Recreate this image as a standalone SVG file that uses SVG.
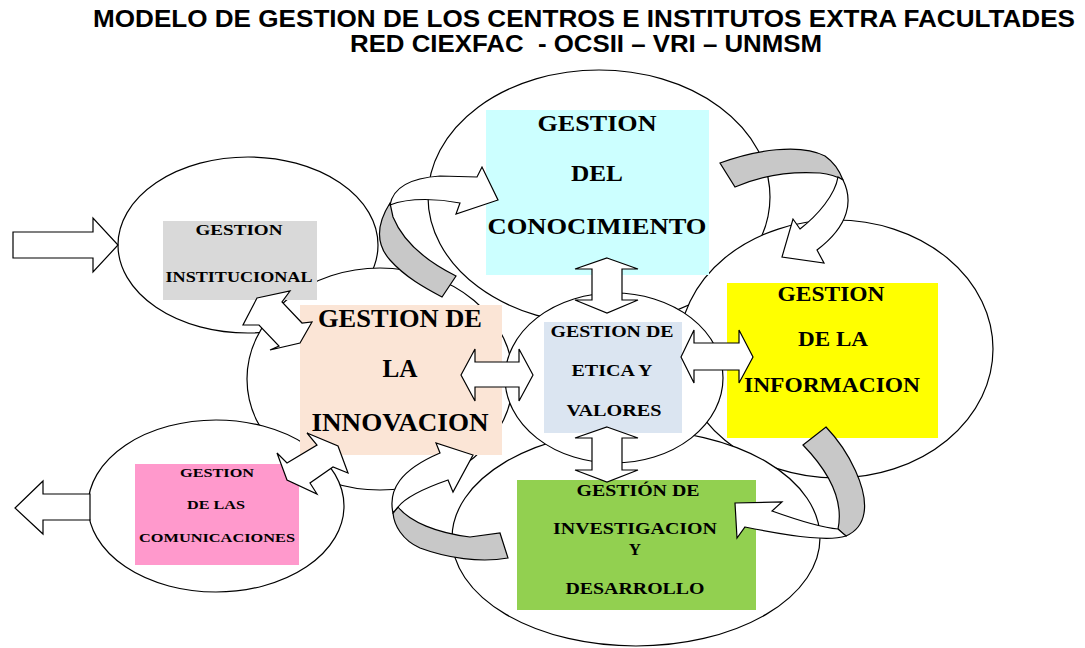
<svg xmlns="http://www.w3.org/2000/svg" width="1085" height="648" viewBox="0 0 1085 648">
<style>
.ring{fill:#fff;stroke:#000;stroke-width:1.2}
.box{stroke:none}
.t{font-family:"Liberation Serif","Times New Roman",serif;font-weight:bold;fill:#000;text-anchor:middle}
.title{font-family:"Liberation Sans",Arial,sans-serif;font-weight:bold;font-size:24px;fill:#000;white-space:pre}
.arr{fill:#fff;stroke:#000;stroke-width:1.2;stroke-linejoin:miter}
.back{fill:#c8c8c8;stroke:#000;stroke-width:1.2}
</style>
<rect width="1085" height="648" fill="#fff"/>
<g id="title">
<text class="title" x="93" y="27" textLength="982" lengthAdjust="spacingAndGlyphs">MODELO DE GESTION DE LOS CENTROS E INSTITUTOS EXTRA FACULTADES</text>
<text class="title" x="350" y="52" textLength="472" lengthAdjust="spacingAndGlyphs">RED CIEXFAC  - OCSII – VRI – UNMSM</text>
</g>
<g id="rings">
<ellipse id="ring-conocimiento" class="ring" cx="599" cy="197" rx="171" ry="127"/>
<ellipse id="ring-institucional" class="ring" cx="248" cy="245" rx="130" ry="88"/>
<ellipse id="ring-innovacion" class="ring" cx="380" cy="379" rx="133" ry="111"/>
<ellipse id="ring-informacion" class="ring" cx="836" cy="349" rx="157" ry="129"/>
<ellipse id="ring-investigacion" class="ring" cx="636" cy="538" rx="184" ry="108"/>
<ellipse id="ring-comunicaciones" class="ring" cx="216" cy="506" rx="128" ry="86"/>
<ellipse id="ring-etica" class="ring" cx="614" cy="378" rx="109" ry="85"/>
</g>
<g id="node-conocimiento">
<rect class="box" x="486" y="110" width="223" height="165" fill="#ccffff"/>
<text class="t" font-size="24" x="597" y="131" textLength="119" lengthAdjust="spacingAndGlyphs">GESTION</text>
<text class="t" font-size="24" x="597" y="181" textLength="52" lengthAdjust="spacingAndGlyphs">DEL</text>
<text class="t" font-size="24" x="597" y="234" textLength="219" lengthAdjust="spacingAndGlyphs">CONOCIMIENTO</text>
</g>
<g id="node-informacion">
<rect class="box" x="727" y="283" width="211" height="155" fill="#ffff00"/>
<text class="t" font-size="22" x="831" y="301" textLength="107" lengthAdjust="spacingAndGlyphs">GESTION</text>
<text class="t" font-size="22" x="833" y="346" textLength="70" lengthAdjust="spacingAndGlyphs">DE LA</text>
<text class="t" font-size="22" x="832" y="392" textLength="176" lengthAdjust="spacingAndGlyphs">INFORMACION</text>
</g>
<g id="node-etica">
<rect class="box" x="544" y="322" width="138" height="111" fill="#dbe5f1"/>
<text class="t" font-size="17" x="612" y="337" textLength="123" lengthAdjust="spacingAndGlyphs">GESTION DE</text>
<text class="t" font-size="17" x="612" y="376" textLength="81" lengthAdjust="spacingAndGlyphs">ETICA Y</text>
<text class="t" font-size="17" x="614" y="416" textLength="95" lengthAdjust="spacingAndGlyphs">VALORES</text>
</g>
<g id="node-innovacion">
<rect class="box" x="300" y="305" width="202" height="150" fill="#fbe5d6"/>
<text class="t" font-size="25" x="400" y="327" textLength="164" lengthAdjust="spacingAndGlyphs">GESTION DE</text>
<text class="t" font-size="25" x="400" y="377" textLength="35" lengthAdjust="spacingAndGlyphs">LA</text>
<text class="t" font-size="25" x="400" y="431" textLength="177" lengthAdjust="spacingAndGlyphs">INNOVACION</text>
</g>
<g id="node-institucional">
<rect class="box" x="163" y="221" width="154" height="79" fill="#d9d9d9"/>
<text class="t" font-size="15" x="239" y="235" textLength="87" lengthAdjust="spacingAndGlyphs">GESTION</text>
<text class="t" font-size="15" x="239" y="282" textLength="147" lengthAdjust="spacingAndGlyphs">INSTITUCIONAL</text>
</g>
<g id="node-comunicaciones">
<rect class="box" x="135" y="464" width="164" height="101" fill="#ff99cc"/>
<text class="t" font-size="13.5" x="217" y="477" textLength="74" lengthAdjust="spacingAndGlyphs">GESTION</text>
<text class="t" font-size="13.5" x="216" y="509" textLength="58" lengthAdjust="spacingAndGlyphs">DE LAS</text>
<text class="t" font-size="13.5" x="217" y="542" textLength="156" lengthAdjust="spacingAndGlyphs">COMUNICACIONES</text>
</g>
<g id="node-investigacion">
<rect class="box" x="517" y="480" width="239" height="130" fill="#92d050"/>
<text class="t" font-size="17" x="638" y="496" textLength="123" lengthAdjust="spacingAndGlyphs">GESTIÓN DE</text>
<text class="t" font-size="17" x="635" y="534" textLength="164" lengthAdjust="spacingAndGlyphs">INVESTIGACION</text>
<text class="t" font-size="17" x="635" y="555">Y</text>
<text class="t" font-size="17" x="635" y="594" textLength="139" lengthAdjust="spacingAndGlyphs">DESARROLLO</text>
</g>
<g id="connectors">
<path class="arr" d="M13,232 L93,232 L93,218 L118,245 L93,272 L93,258 L13,258 Z"/>
<path class="arr" d="M90,494 L43,494 L43,481 L15,508 L43,534 L43,520 L90,520 Z"/>
<path class="arr" d="M607,258 L638,269 L622,269 L622,300 L638,300 L607,313 L575,300 L592,300 L592,269 L575,269 Z"/>
<path class="arr" d="M607,427 L638,438 L622,438 L622,470 L638,470 L607,482 L575,470 L592,470 L592,438 L575,438 Z"/>
<path class="arr" d="M461,375 L475,349 L475,362 L519,362 L519,349 L533,375 L519,401 L519,387 L475,387 L475,401 Z"/>
<path class="arr" d="M681,357 L694,330 L694,343 L739,343 L739,330 L753,357 L739,383 L739,370 L694,370 L694,383 Z"/>
<path class="arr" d="M257,298 L290,291 L282,302 L302,323 L312,322 L300,343 L270,350 L279,346 L259,325 L243,325 Z"/>
<path class="arr" d="M287,480 L277,453 L287,463 L317,445 L307,433 L338,446 L348,473 L333,467 L310,483 L317,494 Z"/>
<path class="back" d="M456,276 C430,263 404,244 393,217 L390,203 C378,222 374,242 390,260 C405,277 425,288 442,297 Z"/>
<path class="arr" d="M390,205 C393,188 410,178 440,176 L477,177 L482,167 L498,200 L456,214 L460,203 C440,199 410,197 390,205 Z"/>
<path class="back" d="M720,163 C755,150 800,143 825,156 C835,163 840,172 843,180 C838,177 830,174 820,173 C790,171 760,176 735,187 Z"/>
<path class="arr" d="M843,180 C853,200 850,225 817,250 L824,263 L782,257 L793,219 L800,229 C818,215 835,195 838,177 Z"/>
<path class="back" d="M803,445 L826,427 C850,452 868,490 864,513 C862,525 855,532 846,536 C842,533 840,531 838,529 C843,505 835,478 803,445 Z"/>
<path class="arr" d="M846,536 C830,541 800,538 745,527 L737,538 L735,503 L782,502 L772,511 C800,521 825,528 838,529 Z"/>
<path class="back" d="M500,533 L508,558 C480,563 447,558 420,548 C402,540 394,525 393,513 L398,507 C410,522 437,533 470,537 Z"/>
<path class="arr" d="M393,513 C388,490 400,470 440,453 L436,443 L473,455 L453,492 L448,480 C425,488 405,498 398,507 Z"/>
</g>
</svg>
